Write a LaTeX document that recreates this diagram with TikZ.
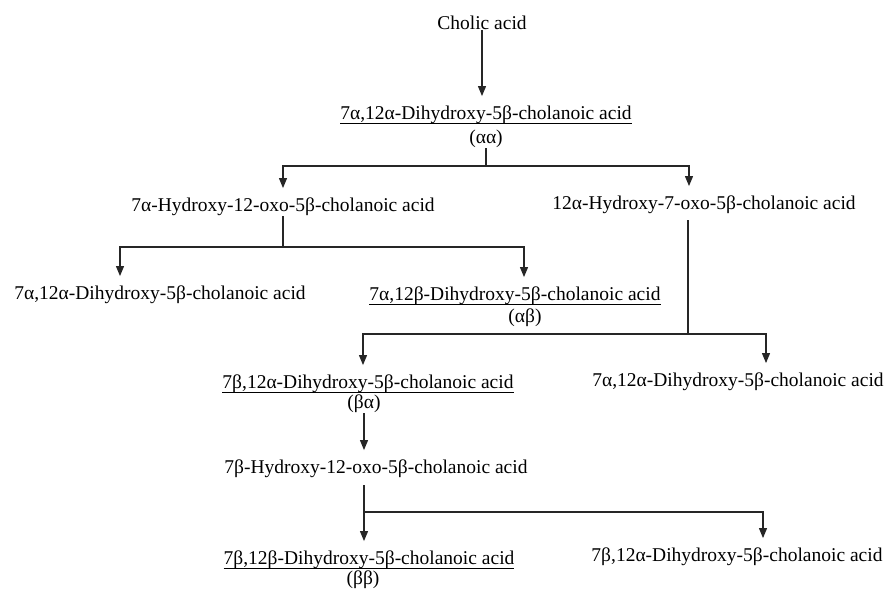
\documentclass[tikz,border=0pt]{standalone}
\usepackage{fontspec}
\setmainfont{Liberation Serif}
\usetikzlibrary{positioning,arrows.meta}

% underlined compound name with a thicker rule
\newcommand{\ulacid}[1]{\setbox0\hbox{#1}\rlap{\copy0}\rule[-4.5pt]{\wd0}{1pt}}

\begin{document}
\begin{tikzpicture}[
  x=1pt, y=-1pt,
  font=\fontsize{19.5}{24}\selectfont,
  >={Triangle[length=10pt,width=8pt]},
  acid/.style={anchor=base, inner xsep=0pt, inner ysep=1pt},
  tag/.style={acid},
  line/.style={line width=1.1pt, draw=black!85},
  arr/.style={line, ->, shorten >=8pt}
]
\useasboundingbox (0,0) rectangle (888,589);

\node[acid] (cholic) at (482,29) {Cholic acid};
\node[acid] (aa) at (486,119) {\ulacid{7α,12α-Dihydroxy-5β-cholanoic acid}};
\node[tag] (aaTag) at ([yshift=-24pt]aa.base) {(αα)};

\node[acid] (hydA) at (283,211) {7α-Hydroxy-12-oxo-5β-cholanoic acid};
\node[acid] (hydB) at (704,209) {12α-Hydroxy-7-oxo-5β-cholanoic acid};

\node[acid] (aaL) at (160,299) {7α,12α-Dihydroxy-5β-cholanoic acid};
\node[acid] (ab) at (515,300) {\ulacid{7α,12β-Dihydroxy-5β-cholanoic acid}};
\node[tag] (abTag) at ([xshift=10pt,yshift=-22pt]ab.base) {(αβ)};

\node[acid] (ba) at (368,388) {\ulacid{7β,12α-Dihydroxy-5β-cholanoic acid}};
\node[tag] (baTag) at ([xshift=-4pt,yshift=-20pt]ba.base) {(βα)};
\node[acid] (aaR) at (738,386) {7α,12α-Dihydroxy-5β-cholanoic acid};

\node[acid] (bHyd) at (376,473) {7β-Hydroxy-12-oxo-5β-cholanoic acid};

\node[acid] (bb) at (369,564) {\ulacid{7β,12β-Dihydroxy-5β-cholanoic acid}};
\node[tag] (bbTag) at ([xshift=-6pt,yshift=-20pt]bb.base) {(ββ)};
\node[acid] (baR) at (737,561) {7β,12α-Dihydroxy-5β-cholanoic acid};

% branch points
\coordinate (j1) at (aaTag.south |- 0,166);
\coordinate (j2) at (hydA.south |- 0,247);
\coordinate (j3) at ([xshift=-16pt]hydB.south |- 0,334);
\coordinate (j4) at (baTag.south |- 0,512);

\draw[arr] (cholic.south) -- (cholic.south |- aa.north);

\draw[line] (aaTag.south) -- (j1);
\draw[arr] (j1) -| (hydA.north);
\draw[arr] (j1) -| ([xshift=-15pt]hydB.north);

\draw[line] (hydA.south) -- (j2);
\draw[arr] (j2) -| ([xshift=-40pt]aaL.north);
\draw[arr] (j2) -| ([xshift=9pt]ab.north);

\draw[line, shorten <=6pt] (j3 |- hydB.south) -- (j3);
\draw[arr] (j3) -| ([xshift=-5pt]ba.north);
\draw[arr] (j3) -| ([xshift=28pt]aaR.north);

\draw[arr] (baTag.south) -- (baTag.south |- bHyd.north);

\draw[arr, shorten <=7pt] (j4 |- bHyd.south) -- (j4 |- bb.north);
\draw[arr] (j4) -| ([xshift=26pt]baR.north);

\end{tikzpicture}
\end{document}
